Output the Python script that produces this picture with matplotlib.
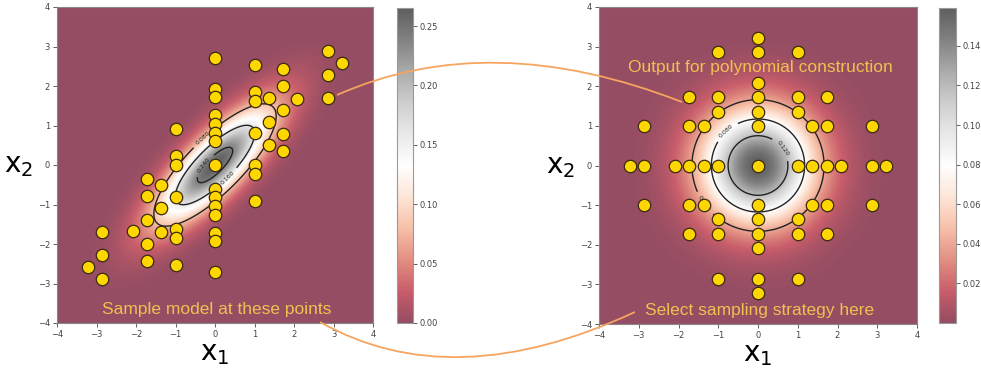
import numpy as np
import matplotlib
matplotlib.use("Agg")
import matplotlib.pyplot as plt
from matplotlib.path import Path
from matplotlib.patches import PathPatch

# ---------------- data ----------------
# sample points, correlated space (left panel)
left_x1 = [2.86, 3.22, 2.86, 2.86,
           2.08,
           1.73, 1.73, 1.73, 1.73, 1.73,
           1.37, 1.37, 1.37,
           1.0, 1.0, 1.0, 1.0, 1.0, 1.0, 1.0,
           0, 0, 0, 0, 0, 0, 0, 0, 0, 0, 0, 0, 0, 0, 0,
           -1.0, -1.0, -1.0, -1.0, -1.0, -1.0, -1.0,
           -1.37, -1.37, -1.37,
           -1.73, -1.73, -1.73, -1.73, -1.73,
           -2.08,
           -2.86, -2.86, -2.86, -3.22]
left_x2 = [2.89, 2.58, 2.29, 1.69,
           1.66,
           2.42, 1.99, 1.39, 0.79, 0.35,
           1.70, 1.10, 0.50,
           2.52, 1.84, 1.61, 0.80, -0.01, -0.24, -0.92,
           2.71, 1.92, 1.71, 1.26, 1.04, 0.81, 0.60, 0, -0.60, -0.81, -1.04, -1.26, -1.71, -1.92, -2.71,
           0.92, 0.24, 0.01, -0.80, -1.61, -1.84, -2.52,
           -0.50, -1.10, -1.70,
           -0.35, -0.79, -1.39, -1.99, -2.42,
           -1.66,
           -1.69, -2.29, -2.89, -2.58]

# sample points, standard space (right panel)
right_x1 = [0, -1, 0, 1, 0,
            -1.73, -1, 0, 1, 1.73,
            -1, 0, 1,
            -2.86, -1.73, -1.37, 0, 1.37, 1.73, 2.86,
            -3.21, -2.86, -2.09, -1.73, -1.37, -1, 0, 1, 1.37, 1.73, 2.09, 2.86, 3.21,
            -2.86, -1.73, -1.37, 0, 1.37, 1.73, 2.86,
            -1, 0, 1,
            -1.73, -1, 0, 1, 1.73,
            0,
            -1, 0, 1,
            0]
right_x2 = [3.21, 2.86, 2.86, 2.86, 2.09,
            1.73, 1.73, 1.73, 1.73, 1.73,
            1.36, 1.36, 1.36,
            1, 1, 1, 1, 1, 1, 1,
            0, 0, 0, 0, 0, 0, 0, 0, 0, 0, 0, 0, 0,
            -1, -1, -1, -1, -1, -1, -1,
            -1.36, -1.36, -1.36,
            -1.73, -1.73, -1.73, -1.73, -1.73,
            -2.09,
            -2.86, -2.86, -2.86,
            -3.21]

# density model parameters
correlation = 0.8
left_levels = [0.08, 0.16, 0.24]
right_levels = [0.04, 0.08, 0.12]
left_cbar_ticks = [0.00, 0.05, 0.10, 0.15, 0.20, 0.25]
right_cbar_ticks = [0.02, 0.04, 0.06, 0.08, 0.10, 0.12, 0.14]
axis_ticks = [-4, -3, -2, -1, 0, 1, 2, 3, 4]

# ---------------- figure ----------------
W, H = 981, 369
fig = plt.figure(figsize=(W / 100, H / 100), dpi=100)

def fr(x0, y0, x1, y1):
    return [x0 / W, 1 - y1 / H, (x1 - x0) / W, (y1 - y0) / H]

ax_l = fig.add_axes(fr(57, 7, 373, 323))
cax_l = fig.add_axes(fr(397, 8, 413, 323))
ax_r = fig.add_axes(fr(599, 7, 917, 324))
cax_r = fig.add_axes(fr(939, 8, 956, 323))

g = np.linspace(-4, 4, 400)
X, Y = np.meshgrid(g, g)
rho = correlation
Z_l = np.exp(-(X**2 - 2 * rho * X * Y + Y**2) / (2 * (1 - rho**2))) / (2 * np.pi * np.sqrt(1 - rho**2))
Z_r = np.exp(-(X**2 + Y**2) / 2) / (2 * np.pi)

text_color = '#f0c050'
curve_color = '#f5a560'

for ax, cax, Z, levels, px, py, ticks, fmt in [
        (ax_l, cax_l, Z_l, left_levels, left_x1, left_x2, left_cbar_ticks, '%.2f'),
        (ax_r, cax_r, Z_r, right_levels, right_x1, right_x2, right_cbar_ticks, '%.2f')]:
    im = ax.imshow(Z, extent=[-4, 4, -4, 4], origin='lower', cmap='RdGy',
                   alpha=0.7, interpolation='bilinear', aspect='auto')
    cs = ax.contour(X, Y, Z, levels=levels, colors='#222222', linewidths=1.0)
    ax.clabel(cs, fmt='%.3f', fontsize=4.5, inline=True)
    ax.scatter(px, py, s=80, c='#ffd700', edgecolors='#3a2a10', linewidths=0.9, zorder=5)
    ax.set_xlim(-4, 4)
    ax.set_ylim(-4, 4)
    ax.set_xticks(axis_ticks)
    ax.set_yticks(axis_ticks)
    ax.tick_params(labelsize=6, length=3, width=0.6, colors='#444444', pad=2)
    for s in ax.spines.values():
        s.set_color('#888888')
        s.set_linewidth(0.8)
    ax.set_xlabel(r'$\mathregular{x_1}$', fontsize=20, labelpad=0)
    ax.set_ylabel(r'$\mathregular{x_2}$', fontsize=20, rotation=0, labelpad=14, va='center')
    cb = fig.colorbar(im, cax=cax)
    cb.set_ticks(ticks)
    cb.ax.set_yticklabels([fmt % t for t in ticks])
    cb.ax.tick_params(labelsize=6, length=3, width=0.6, colors='#444444', pad=2)
    cb.outline.set_edgecolor('#999999')
    cb.outline.set_linewidth(0.8)

ax_l.text(0.05, -3.65, 'Sample model at these points', color=text_color,
          fontsize=12.5, family='Liberation Sans', ha='center', va='center', zorder=6)
ax_r.text(0.05, -3.65, 'Select sampling strategy here', color=text_color,
          fontsize=12.5, family='Liberation Sans', ha='center', va='center', zorder=6)
ax_r.text(0.05, 2.48, 'Output for polynomial construction', color=text_color,
          fontsize=12.5, family='Liberation Sans', ha='center', va='center', zorder=6)

# connecting curves (figure pixel positions, top-left origin)
def fpt(x, y):
    return (x / W, 1 - y / H)

curves = [
    [(337, 95), (490, 27), (682, 102)],
    [(320, 322), (452, 397), (635, 312)],
]
for c in curves:
    path = Path([fpt(*p) for p in c], [Path.MOVETO, Path.CURVE3, Path.CURVE3])
    patch = PathPatch(path, transform=fig.transFigure, facecolor='none',
                      edgecolor=curve_color, linewidth=1.3, zorder=10)
    fig.add_artist(patch)

fig.savefig('out.png', dpi=100)
